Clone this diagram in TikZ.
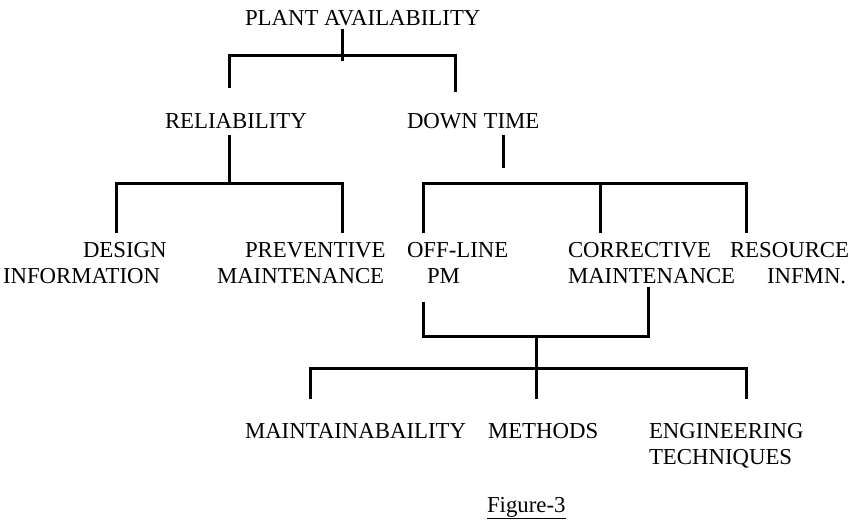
\documentclass[tikz,border=0pt]{standalone}
\usepackage{fontspec}
\setmainfont{Liberation Serif}
\usetikzlibrary{positioning}

\begin{document}
\begin{tikzpicture}[x=1pt, y=-1pt]
\tikzstyle{term} = [inner sep=0pt, outer sep=0pt, anchor=base west, align=left, font=\fontsize{22.8}{26}\selectfont]
\tikzstyle{link} = [line width=3pt]

\useasboundingbox (0,0) rectangle (850,521);

% labels (base = last line)
\node (avail) [term] at (245,26) {PLANT AVAILABILITY};
\node (rel) [term] at (165,129) {RELIABILITY};
\node (down) [term] at (407,129) {DOWN TIME};
\node (design) [term] at (3,283) {\hspace*{80pt}DESIGN\\INFORMATION};
\node (prev) [term] at (217,283) {\hspace*{28pt}PREVENTIVE\\MAINTENANCE};
\node (offline) [term] at (407,283) {OFF-LINE\\\hspace*{20pt}PM};
\node (corr) [term] at (568,283) {CORRECTIVE\\MAINTENANCE};
\node (res) [term] at (730,283) {RESOURCE\\\hspace*{37pt}INFMN.};
\node (maint) [term] at (245,438) {MAINTAINABAILITY};
\node (meth) [term] at (488,438) {METHODS};
\node (eng) [term] at (649,464) {ENGINEERING\\TECHNIQUES};
\node (fig) [term] at (487,512) {\underline{Figure-3}};

% junctions
\coordinate (t0) at (342,61);
\coordinate (tl) at (229,56);
\coordinate (tr) at (455,56);
\coordinate (r0) at (229,184);
\coordinate (rl) at (116,184);
\coordinate (rr) at (342,184);
\coordinate (d0) at (503,168);
\coordinate (dl) at (423,184);
\coordinate (dm) at (600,184);
\coordinate (dr) at (746,184);
\coordinate (ml) at (423,336);
\coordinate (mr) at (648,336);
\coordinate (m0) at (536,336);
\coordinate (bl) at (310,368);
\coordinate (br) at (746,368);

% plant availability
\draw [link, shorten <=3pt] (avail.south -| t0) -- (t0);
\draw [link, shorten <=26pt, shorten >=22pt] (rel.north -| tl) -- (tl) -- (tr) -- (down.north -| tr);

% reliability
\draw [link, shorten <=6pt] (rel.south -| r0) -- (r0);
\draw [link, shorten <=9pt, shorten >=9pt] (design.north -| rl) -- (rl) -- (rr) -- (prev.north -| rr);

% down time
\draw [link, shorten <=6pt] (down.south -| d0) -- (d0);
\draw [link, shorten <=9pt, shorten >=9pt] (offline.north -| dl) -- (dl) -- (dr) -- (res.north -| dr);
\draw [link, shorten >=9pt] (dm) -- (corr.north -| dm);

% off-line pm + corrective maintenance
\draw [link, shorten <=19pt, shorten >=4pt] (offline.south -| ml) -- (ml) -- (mr) -- (corr.south -| mr);
\draw [link, shorten >=24pt] (m0) -- (meth.north -| m0);
\draw [link, shorten <=24pt, shorten >=24pt] (maint.north -| bl) -- (bl) -- (br) -- (eng.north -| br);
\end{tikzpicture}
\end{document}
